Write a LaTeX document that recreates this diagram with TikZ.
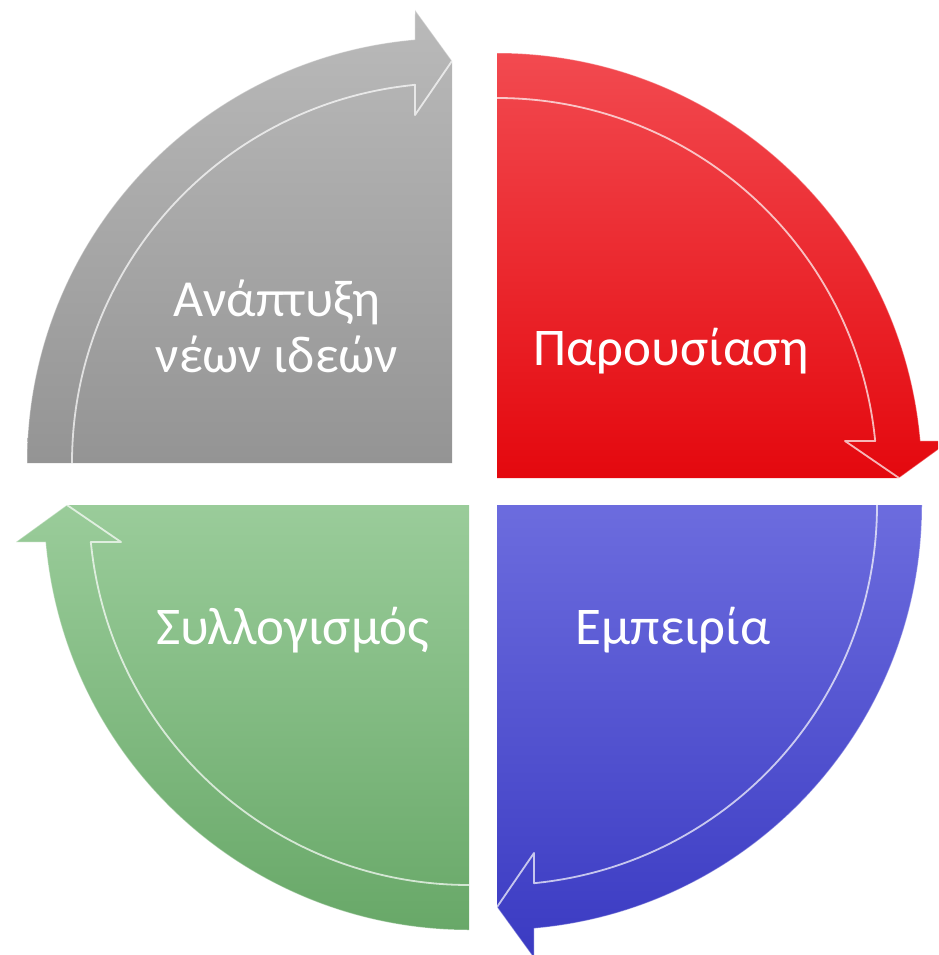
\documentclass[tikz,border=0pt]{standalone}
\usepackage{fontspec}
\setmainfont{Carlito}
\usetikzlibrary{calc}
\definecolor{grayT}{RGB}{186,186,186}
\definecolor{grayB}{RGB}{148,148,148}
\definecolor{redT}{RGB}{242,74,80}
\definecolor{redB}{RGB}{228,8,14}
\definecolor{blueT}{RGB}{108,108,222}
\definecolor{blueB}{RGB}{58,58,194}
\definecolor{greenT}{RGB}{154,204,154}
\definecolor{greenB}{RGB}{104,168,104}
\tikzset{
  lbl/.style={text=white, inner sep=0pt, font=\fontsize{53}{56}\selectfont},
  lblsmall/.style={text=white, inner sep=0pt, align=center, font=\fontsize{52}{56}\selectfont},
  bevel/.style={white, opacity=.7, line width=1.8pt, line join=round},
}
% #1 centre coordinate, #2 start angle (plain end), #3 top colour, #4 bottom colour
\newcommand\petalshape[4]{%
  \pgfmathsetmacro\ea{#2-90}%
  \pgfmathsetmacro\eb{#2-85}%
  \pgfmathsetmacro\ec{#2}%
  \pgfmathsetmacro\ed{#2-90+5.59}%
  \shade[top color=#3, bottom color=#4]
    (#1) -- ($(#1)+(#2:425)$) arc[start angle=#2, end angle=\eb, radius=425]
    -- ($(#1)+(\ea:453)+(\ec:37)$) -- ($(#1)+(\ea:402)$) -- cycle;
  \draw[bevel] ($(#1)+(#2:380)$) arc[start angle=#2, end angle=\ed, radius=380]
    -- ($(#1)+(\ea:348)+(\ec:37)$) -- ($(#1)+(\ea:402)$);
  \draw[white, opacity=.35, line width=1pt, line join=round]
    ($(#1)+(#2:425)$) arc[start angle=#2, end angle=\eb, radius=425]
    -- ($(#1)+(\ea:453)+(\ec:37)$) -- ($(#1)+(\ea:402)$);
}
\begin{document}
\begin{tikzpicture}[x=1pt,y=1pt]
\useasboundingbox (0,0) rectangle (938,-955);
\clip (0,0) rectangle (938,-955);
\coordinate (cg) at (452,-463);
\coordinate (cr) at (497,-478);
\coordinate (cb) at (497,-505);
\coordinate (cn) at (469,-505);
\petalshape{cg}{180}{grayT}{grayB}
\petalshape{cr}{90}{redT}{redB}
\petalshape{cb}{0}{blueT}{blueB}
\petalshape{cn}{270}{greenT}{greenB}
\node[lblsmall, anchor=base] (tg) at (277,-372) {Ανάπτυξη\\νέων ιδεών};
\node[lbl, anchor=base] (tr) at (671.5,-365) {Παρουσίαση};
\node[lbl, anchor=base] (tb) at (673,-644) {Εμπειρία};
\node[lbl, anchor=base] (tn) at (293,-644) {Συλλογισμός};
\end{tikzpicture}
\end{document}
